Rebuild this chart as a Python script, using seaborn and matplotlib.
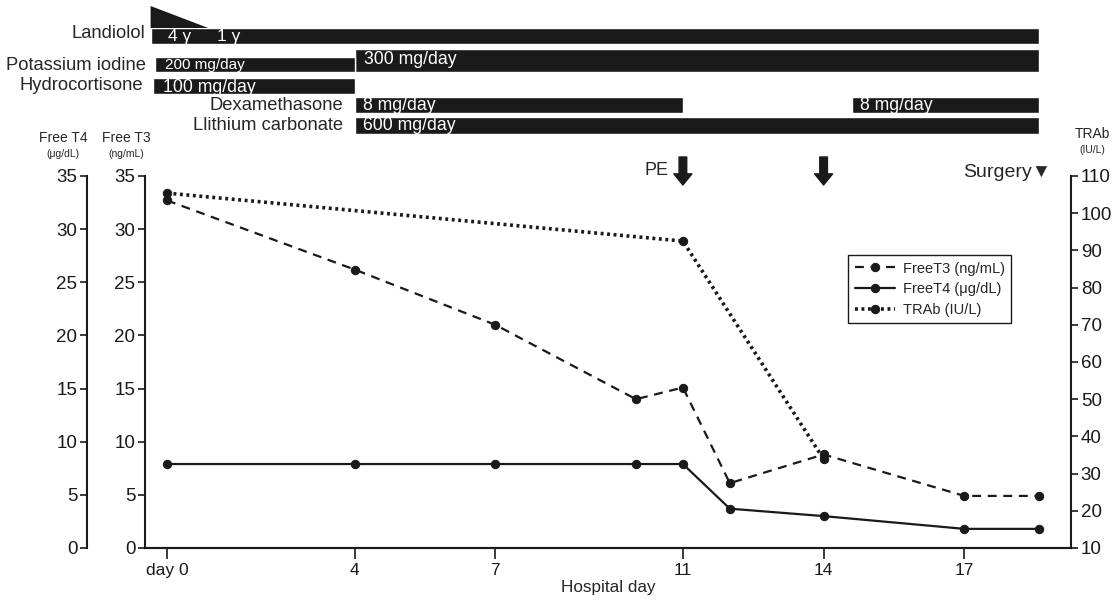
import numpy as np
import pandas as pd
import seaborn as sns
import matplotlib.pyplot as plt

sns.set_theme(style="ticks")
plt.rcParams['font.family'] = ['Liberation Sans', 'DejaVu Sans']

# data
days_t3 = [0, 4, 7, 10, 11, 12, 14, 17, 18.6]
free_t3 = [32.7, 26.2, 21.0, 14.0, 15.1, 6.1, 8.8, 4.9, 4.9]
days_t4 = [0, 4, 7, 10, 11, 12, 14, 17, 18.6]
free_t4 = [7.9, 7.9, 7.9, 7.9, 7.9, 3.7, 3.0, 1.8, 1.8]
days_trab = [0, 11, 14]
trab = [105.4, 92.5, 33.9]
xtick_days = [0, 4, 7, 11, 14, 17]
xtick_labels = ["day 0", "4", "7", "11", "14", "17"]

# treatment rows: (start day, end day, dose text)
landiolol = [(-0.35, 18.6, "")]
potassium_200 = [(-0.26, 4, "200 mg/day")]
potassium_300 = [(4, 18.6, "300 mg/day")]
hydrocortisone = [(-0.3, 4, "100 mg/day")]
dexamethasone = [(4, 11, "8 mg/day"), (14.6, 18.6, "8 mg/day")]
lithium = [(4, 18.6, "600 mg/day")]

W, H = 1118, 601
fig = plt.figure(figsize=(W / 100, H / 100), dpi=100)

px0, px1 = 145, 1071
day0_px, px_per_day = 167, 46.9
xlim = ((px0 - day0_px) / px_per_day, (px1 - day0_px) / px_per_day)
bot, top = 548, 176
TICK_FS = 13.5

ax = fig.add_axes([px0 / W, 1 - bot / H, (px1 - px0) / W, (bot - top) / H])
ax2 = ax.twinx()

sns.lineplot(x=days_t3, y=free_t3, ax=ax, color='k', marker='o', markersize=6,
             markeredgecolor='k', linestyle=(0, (4, 3)), linewidth=1.6, label="FreeT3 (ng/mL)")
sns.lineplot(x=days_t4, y=free_t4, ax=ax, color='k', marker='o', markersize=6,
             markeredgecolor='k', linestyle='-', linewidth=1.6, label="FreeT4 (\u03bcg/dL)")
sns.lineplot(x=days_trab, y=trab, ax=ax2, color='k', marker='o', markersize=6,
             markeredgecolor='k', linestyle=(0, (0.8, 1.0)), linewidth=2.6, label="TRAb (IU/L)")

ax.set_xlim(*xlim)
ax.set_ylim(0, 35)
ax2.set_ylim(10, 110)
ax.set_yticks(np.arange(0, 36, 5))
ax2.set_yticks(np.arange(10, 111, 10))
ax.set_xticks(xtick_days)
ax.set_xticklabels(xtick_labels)
ax.set_xlabel("Hospital day", fontsize=12.3, labelpad=1)
ax.set_ylabel("")
for a in (ax, ax2):
    a.spines['top'].set_visible(False)
    a.tick_params(labelsize=TICK_FS, width=1.2, length=5, color='k', labelcolor='k', pad=2)
    for s in a.spines.values():
        s.set_color('k')
        s.set_linewidth(1.5)
ax.spines['right'].set_visible(False)
ax2.spines['left'].set_visible(False)
ax.tick_params(axis='x', length=8, labelsize=12.5, pad=3)

# Free T4 separate axis
ax4 = fig.add_axes([87 / W, 1 - bot / H, 1 / W, (bot - top) / H])
ax4.set_ylim(0, 35)
ax4.set_yticks(np.arange(0, 36, 5))
ax4.set_xticks([])
for k in ('top', 'right', 'bottom'):
    ax4.spines[k].set_visible(False)
ax4.spines['left'].set_color('k')
ax4.spines['left'].set_linewidth(1.5)
ax4.tick_params(labelsize=TICK_FS, width=1.2, length=5, color='k', labelcolor='k', pad=2)
ax4.patch.set_alpha(0)

# legend
h1, l1 = ax.get_legend_handles_labels()
h2, l2 = ax2.get_legend_handles_labels()
ax.get_legend().remove()
ax2.get_legend().remove()
leg = ax2.legend(h1 + h2, l1 + l2, loc='upper left', bbox_to_anchor=(848 / W, 1 - 255 / H),
                 bbox_transform=fig.transFigure, fontsize=10.5, frameon=True, fancybox=False,
                 edgecolor='k', framealpha=1, handlelength=2.8, borderpad=0.45,
                 labelspacing=0.45, handletextpad=0.5, borderaxespad=0)
leg.get_frame().set_linewidth(1.0)

# axis titles
fig.text(63 / W, 1 - 138 / H, "Free T4", ha='center', va='center', fontsize=10)
fig.text(63 / W, 1 - 154 / H, "(\u03bcg/dL)", ha='center', va='center', fontsize=7.5)
fig.text(126 / W, 1 - 138 / H, "Free T3", ha='center', va='center', fontsize=10)
fig.text(126 / W, 1 - 154 / H, "(ng/mL)", ha='center', va='center', fontsize=7.5)
fig.text(1092 / W, 1 - 134 / H, "TRAb", ha='center', va='center', fontsize=10)
fig.text(1092 / W, 1 - 150 / H, "(IU/L)", ha='center', va='center', fontsize=7.5)


# event markers
def ypx(p):
    return (bot - p) / (bot - top) * 35


for d in (11, 14):
    ax.annotate('', xy=(d, ypx(185)), xytext=(d, ypx(157)), annotation_clip=False,
                arrowprops=dict(arrowstyle='simple,head_length=0.8,head_width=1.3,tail_width=0.55',
                                color='k', mutation_scale=10, shrinkA=0, shrinkB=0))
ax.text(10.7, ypx(170), "PE", ha='right', va='center', fontsize=13, clip_on=False)
ax.text(18.85, ypx(172), "Surgery\u25bc", ha='right', va='center', fontsize=14, clip_on=False)

# treatment panel
axt = fig.add_axes([px0 / W, 1 - 140 / H, (px1 - px0) / W, 140 / H])
axt.set_xlim(*xlim)
axt.set_ylim(140, 0)
axt.axis('off')


def draw_row(segs, y0, y1, text_y, fs, dx=0.2):
    for s, e, lab in segs:
        axt.barh((y0 + y1) / 2, e - s, left=s, height=y1 - y0, color='k')
        if lab:
            axt.text(s + dx, text_y, lab, color='w', ha='left', va='center', fontsize=fs)


draw_row(landiolol, 28, 44, 36, 12.5)
axt.fill([-0.35, 0.88, -0.35], [6, 28, 28], color='k', lw=0)
axt.text(0.02, 37, "4 \u03b3", color='w', ha='left', va='center', fontsize=12.5)
axt.text(1.07, 37, "1 \u03b3", color='w', ha='left', va='center', fontsize=12.5)
draw_row(potassium_300, 49, 72, 60, 12.7)
draw_row(potassium_200, 57, 72, 65, 11, dx=0.22)
draw_row(hydrocortisone, 78, 94, 87, 12.7, dx=0.21)
draw_row(dexamethasone, 97, 113, 105, 12.7, dx=0.17)
draw_row(lithium, 117, 134, 126, 12.7, dx=0.17)

label_rows = [("Landiolol", -0.47, 33), ("Potassium iodine", -0.45, 65),
              ("Hydrocortisone", -0.5, 86), ("Dexamethasone", 3.75, 105),
              ("Llithium carbonate", 3.75, 126)]
for name, xx, yy in label_rows:
    axt.text(xx, yy, name, ha='right', va='center', fontsize=13.2, clip_on=False)

fig.savefig("out.png", dpi=100)
